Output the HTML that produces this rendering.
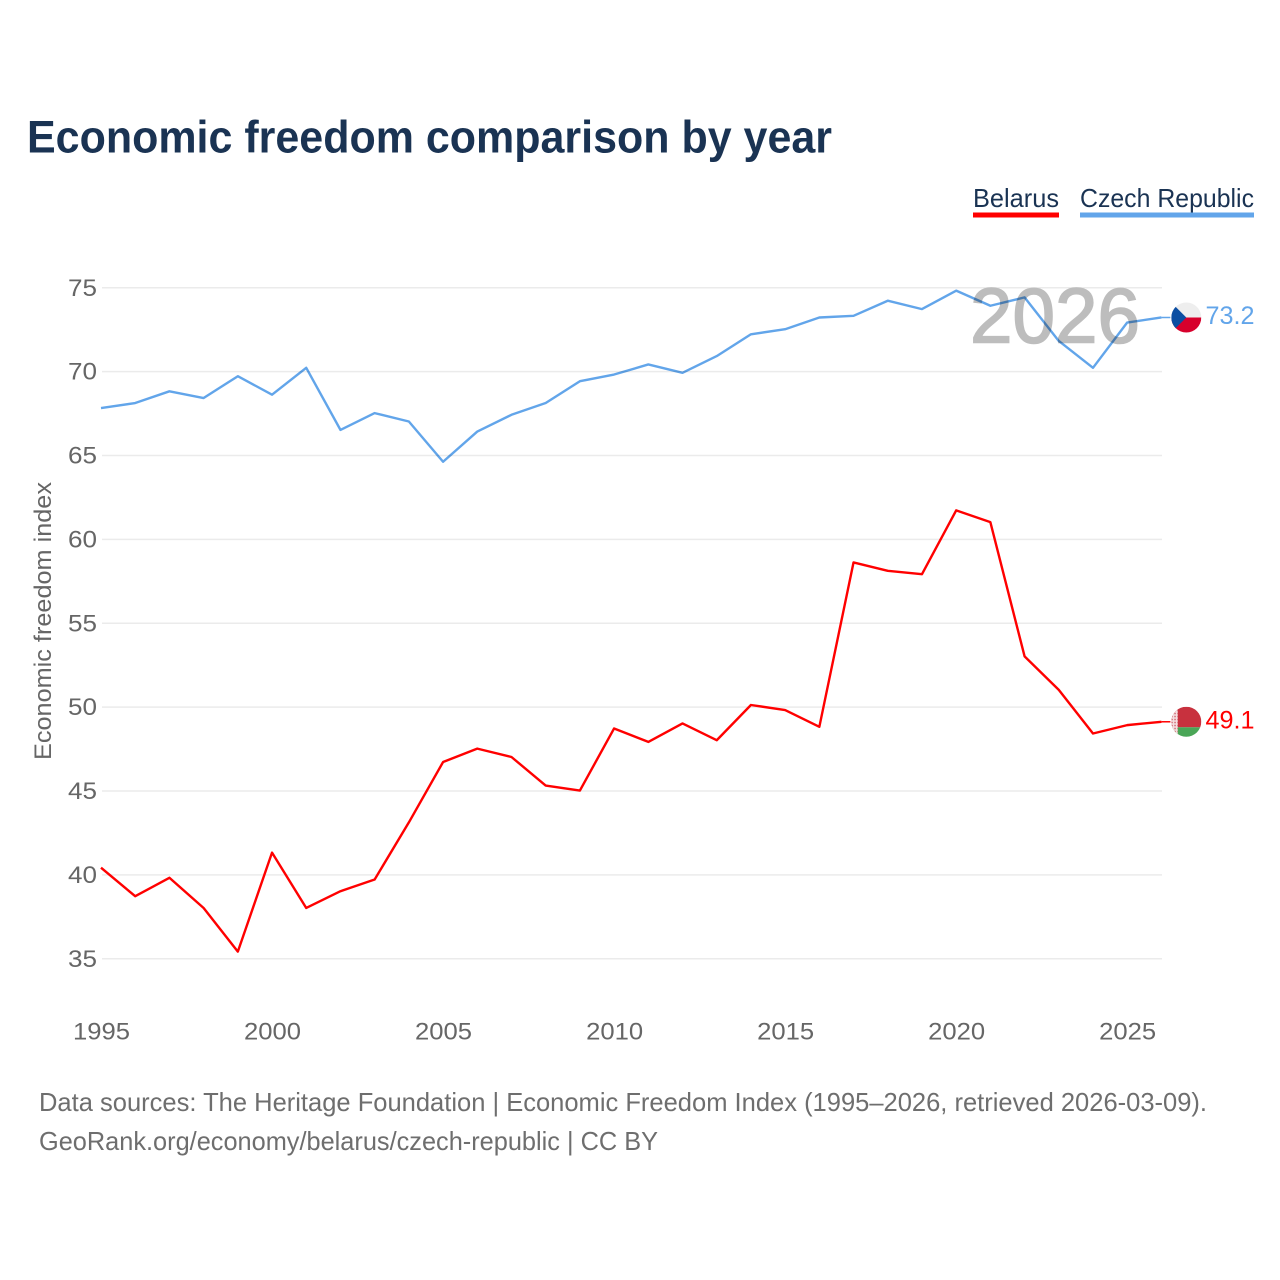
<!DOCTYPE html>
<html lang="en">
<head>
<meta charset="utf-8">
<title>Economic freedom comparison by year</title>
<style>
html,body{margin:0;padding:0;background:#fff;width:1280px;height:1280px;overflow:hidden}
svg{display:block}
text{font-family:"Liberation Sans",Arial,sans-serif}
.tick{font-size:24px;fill:#666}
.src{font-size:26px;fill:#6e6e6e}
</style>
</head>
<body>
<svg id="chart" width="1280" height="1280" viewBox="0 0 1280 1280" xmlns="http://www.w3.org/2000/svg">
  <defs>
    <clipPath id="clip-cz"><circle cx="0" cy="0" r="15"/></clipPath>
    <clipPath id="clip-by"><circle cx="0" cy="0" r="15"/></clipPath>
    <pattern id="by-orn" width="3" height="3" patternUnits="userSpaceOnUse">
      <rect width="3" height="3" fill="#f4dfe0"/>
      <rect width="1.5" height="1.5" fill="#d06a74"/>
    </pattern>
  </defs>
  <text x="27" y="152.500" font-size="45" font-weight="700" fill="#1a3353" textLength="805" lengthAdjust="spacingAndGlyphs">Economic freedom comparison by year</text>

  <g>
    <g>
      <text x="973" y="207" font-size="26" fill="#1a3353" textLength="86" lengthAdjust="spacingAndGlyphs">Belarus</text>
      <rect x="973" y="212.500" width="86" height="5" fill="#ff0000"/>
    </g>
    <g>
      <text x="1080" y="207" font-size="26" fill="#1a3353" textLength="174" lengthAdjust="spacingAndGlyphs">Czech Republic</text>
      <rect x="1080" y="212.500" width="174" height="5" fill="#62a5ea"/>
    </g>
  </g>

  <g id="grid"></g>
  <g id="yticks"></g>
  <g id="xticks"></g>

  <text transform="translate(51,621) rotate(-90)" text-anchor="middle" font-size="24" fill="#666" textLength="278" lengthAdjust="spacingAndGlyphs">Economic freedom index</text>

  <text x="970" y="342.500" font-size="78" font-weight="400" fill="#bdbdbd" stroke="#bdbdbd" stroke-width="1.6" textLength="170" lengthAdjust="spacingAndGlyphs">2026</text>

  <g id="series"></g>

  <g id="flag-cz">
    <g clip-path="url(#clip-cz)">
      <rect x="-15" y="-15" width="30" height="15" fill="#eeeeee"/>
      <rect x="-15" y="0" width="30" height="15" fill="#d7002c"/>
      <polygon points="-15,-15 -15,15 0,0" fill="#0b4ea2"/>
    </g>
  </g>
  <g id="flag-by">
    <g clip-path="url(#clip-by)">
      <rect x="-15" y="-15" width="30" height="20.500" fill="#c8313e"/>
      <rect x="-15" y="5.500" width="30" height="10" fill="#4aa657"/>
      <rect x="-15" y="-15" width="6.500" height="30" fill="url(#by-orn)"/>
    </g>
  </g>

  <text id="val-cz" x="1205.500" font-size="25" fill="#62a5ea" textLength="49" lengthAdjust="spacingAndGlyphs"></text>
  <text id="val-by" x="1205.500" font-size="25" fill="#ff0000" textLength="49" lengthAdjust="spacingAndGlyphs"></text>

  <text class="src" x="39" y="1111" textLength="1168" lengthAdjust="spacingAndGlyphs">Data sources: The Heritage Foundation | Economic Freedom Index (1995–2026, retrieved 2026-03-09).</text>
  <text class="src" x="39" y="1150" textLength="619" lengthAdjust="spacingAndGlyphs">GeoRank.org/economy/belarus/czech-republic | CC BY</text>
</svg>
<script>
const years = [1995,1996,1997,1998,1999,2000,2001,2002,2003,2004,2005,2006,2007,2008,2009,2010,2011,2012,2013,2014,2015,2016,2017,2018,2019,2020,2021,2022,2023,2024,2025,2026];
const belarus = [40.4,38.7,39.8,38.0,35.4,41.3,38.0,39.0,39.7,43.1,46.7,47.5,47.0,45.3,45.0,48.7,47.9,49.0,48.0,50.1,49.8,48.8,58.6,58.1,57.9,61.7,61.0,53.0,51.0,48.4,48.9,49.1];
const czech = [67.8,68.1,68.8,68.4,69.7,68.6,70.2,66.5,67.5,67.0,64.6,66.4,67.4,68.1,69.4,69.8,70.4,69.9,70.9,72.2,72.5,73.2,73.3,74.2,73.7,74.8,73.9,74.4,71.8,70.2,72.9,73.2];
const yTicks = [35,40,45,50,55,60,65,70,75];
const xTicks = [1995,2000,2005,2010,2015,2020,2025];

const NS = 'http://www.w3.org/2000/svg';
const xScale = function (v) { return 101 + (v - 1995) * (1127.2 - 101) / 30; };
const yScale = function (v) { return 287.3 + (75 - v) * (958.3 - 287.3) / 40; };

function make(tag, parent, attrs) {
  const el = document.createElementNS(NS, tag);
  Object.keys(attrs).forEach(function (k) { el.setAttribute(k, attrs[k]); });
  parent.appendChild(el);
  return el;
}

const grid = document.getElementById('grid');
const yG = document.getElementById('yticks');
const xG = document.getElementById('xticks');

yTicks.forEach(function (t) {
  const line = make('line', grid, {x1: 102, x2: 1162, y1: yScale(t) + 0.4, y2: yScale(t) + 0.4, stroke: '#ebebeb', 'stroke-width': 1.5});
  
  
  const label = make('text', yG, {x: 97, y: yScale(t) + 8.5, 'text-anchor': 'end', class: 'tick', textLength: 29, lengthAdjust: 'spacingAndGlyphs'});
  
  
  label.textContent = t;
});

xTicks.forEach(function (t) {
  const label = make('text', xG, {x: xScale(t) + 0.5, y: 1039.5, 'text-anchor': 'middle', class: 'tick', textLength: 57, lengthAdjust: 'spacingAndGlyphs'});
  
  
  label.textContent = t;
});

const seriesG = document.getElementById('series');

function pathFor(values) {
  return values.map(function (v, i) {
    return (i ? 'L' : 'M') + xScale(years[i]).toFixed(2) + ' ' + yScale(v).toFixed(2);
  }).join(' ');
}

const czLine = make('path', seriesG, {d: pathFor(czech), fill: 'none', stroke: '#62a5ea', 'stroke-width': 2.4, 'stroke-linejoin': 'round', style: 'mix-blend-mode:multiply'});



const byLine = make('path', seriesG, {d: pathFor(belarus), fill: 'none', stroke: '#ff0000', 'stroke-width': 2.4, 'stroke-linejoin': 'round'});



const lastX = xScale(years[years.length - 1]);
const czLast = czech[czech.length - 1];
const byLast = belarus[belarus.length - 1];

const czLead = make('line', seriesG, {x1: lastX, x2: lastX + 9, y1: yScale(czLast), y2: yScale(czLast), stroke: '#62a5ea', 'stroke-width': 1.5});



const byLead = make('line', seriesG, {x1: lastX, x2: lastX + 9, y1: yScale(byLast), y2: yScale(byLast), stroke: '#ff0000', 'stroke-width': 1.5});



document.getElementById('flag-cz').setAttribute('transform', 'translate(1186.3,' + yScale(czLast) + ')');
document.getElementById('flag-by').setAttribute('transform', 'translate(1186.3,' + yScale(byLast) + ')');

const valCz = document.getElementById('val-cz');
valCz.setAttribute('y', yScale(czLast) + 6.5);
valCz.textContent = czLast.toFixed(1);
const valBy = document.getElementById('val-by');
valBy.setAttribute('y', yScale(byLast) + 6.5);
valBy.textContent = byLast.toFixed(1);
</script>
</body>
</html>
